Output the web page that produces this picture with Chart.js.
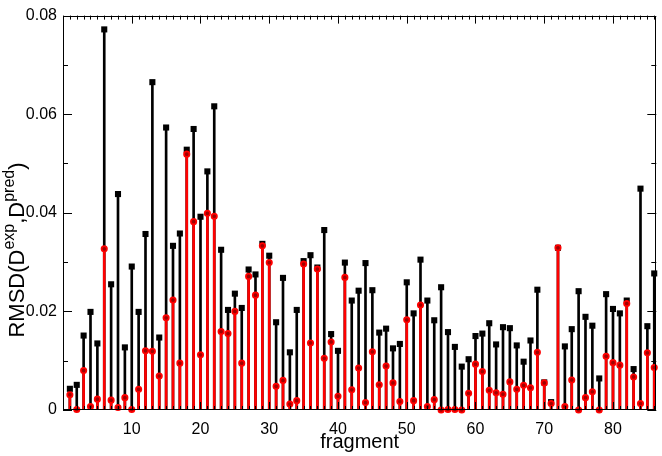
<!DOCTYPE html>
<html><head><meta charset="utf-8">
<script src="https://cdn.jsdelivr.net/npm/chart.js@4"></script>
<style>html,body{margin:0;padding:0;background:#fff}</style>
</head><body>
<canvas id="c" width="662" height="456" style="display:block;width:662px;height:456px"></canvas>
<script>
const fragments = [];
for (let i = 1; i <= 86; i++) fragments.push(i);
const rmsdBlack = [0.0043,0.0051,0.0151,0.0199,0.0135,0.0772,0.0255,0.0438,0.0127,0.0291,
  0.0199,0.0357,0.0665,0.0147,0.0573,0.0333,0.0358,0.0528,0.0570,0.0392,
  0.0484,0.0616,0.0325,0.0203,0.0236,0.0207,0.0285,0.0275,0.0337,0.0313,
  0.0178,0.0268,0.0117,0.0203,0.0302,0.0314,0.0289,0.0365,0.0154,0.0120,
  0.0299,0.0222,0.0242,0.0298,0.0243,0.0157,0.0165,0.0125,0.0134,0.0259,
  0.0196,0.0305,0.0222,0.0182,0.0249,0.0158,0.0128,0.0088,0.0103,0.0150,
  0.0155,0.0176,0.0133,0.0168,0.0166,0.0131,0.0098,0.0141,0.0244,0.0056,
  0.0016,0.0329,0.0129,0.0164,0.0241,0.0189,0.0171,0.0064,0.0235,0.0205,
  0.0196,0.0222,0.0083,0.0449,0.0170,0.0277];
const rmsdRed = [0.0031,0.0001,0.0080,0.0007,0.0022,0.0327,0.0020,0.0005,0.0025,0.0001,
  0.0042,0.0120,0.0119,0.0069,0.0187,0.0223,0.0095,0.0519,0.0382,0.0112,
  0.0399,0.0393,0.0159,0.0155,0.0200,0.0095,0.0271,0.0233,0.0333,0.0299,
  0.0048,0.0060,0.0012,0.0019,0.0296,0.0136,0.0286,0.0105,0.0138,0.0028,
  0.0269,0.0041,0.0085,0.0015,0.0118,0.0051,0.0089,0.0055,0.0017,0.0183,
  0.0019,0.0213,0.0007,0.0021,0.0000,0.0001,0.0001,0.0000,0.0034,0.0093,
  0.0078,0.0040,0.0035,0.0032,0.0057,0.0042,0.0050,0.0045,0.0117,0.0055,
  0.0013,0.0329,0.0007,0.0061,0.0000,0.0025,0.0037,0.0000,0.0109,0.0096,
  0.0091,0.0216,0.0067,0.0013,0.0116,0.0086];
const xTickValues = [10,20,30,40,50,60,70,80];
const yTickValues = [0,0.02,0.04,0.06,0.08];
const xTitle = 'fragment';

const FONT = '"Liberation Sans", Arial, sans-serif';
const pts = arr => fragments.map((f, i) => ({x: f, y: arr[i]}));

const frameTicks = {
  id: 'frameTicks',
  afterDatasetsDraw(chart) {
    const {ctx, chartArea: {left, right, top, bottom}, scales: {x, y}} = chart;
    ctx.save();
    ctx.strokeStyle = '#000';
    ctx.lineWidth = 1;
    ctx.beginPath();
    for (let v = 0; v <= 86; v++) {
      const px = Math.round(x.getPixelForValue(v)) + 0.5;
      const len = v % 10 === 0 ? 8 : 4;
      ctx.moveTo(px, bottom); ctx.lineTo(px, bottom - len);
      ctx.moveTo(px, top); ctx.lineTo(px, top + len);
    }
    for (let i = 0; i <= 8; i++) {
      const py = Math.round(y.getPixelForValue(i * 0.01)) + 0.5;
      const len = i % 2 === 0 ? 9 : 5;
      ctx.moveTo(left, py); ctx.lineTo(left + len, py);
      ctx.moveTo(right, py); ctx.lineTo(right - len, py);
    }
    ctx.stroke();
    ctx.strokeRect(Math.round(left) + 0.5, Math.round(top) + 0.5, Math.round(right - left) - 1, Math.round(bottom - top) - 1);
    ctx.restore();
  }
};

const titles = {
  id: 'titles',
  afterDraw(chart) {
    const {ctx, chartArea: {left, right}} = chart;
    ctx.save();
    ctx.fillStyle = '#000';
    ctx.font = '20px ' + FONT;
    ctx.textAlign = 'center';
    ctx.textBaseline = 'alphabetic';
    ctx.fillText(xTitle, (left + right) / 2, 448);
    // y title with superscripts
    const parts = [
      ['RMSD(D', false], ['exp', true], [',D', false], ['pred', true], [')', false]
    ];
    const big = '22px ' + FONT, small = '16px ' + FONT;
    let total = 0;
    parts.forEach(p => { ctx.font = p[1] ? small : big; total += ctx.measureText(p[0]).width; });
    ctx.translate(24, 250);
    ctx.rotate(-Math.PI / 2);
    ctx.textAlign = 'left';
    let pos = -total / 2;
    parts.forEach(p => {
      ctx.font = p[1] ? small : big;
      ctx.fillText(p[0], pos, p[1] ? -10 : 0);
      pos += ctx.measureText(p[0]).width;
    });
    ctx.restore();
  }
};

new Chart(document.getElementById('c'), {
  type: 'bar',
  data: {
    datasets: [
      {type: 'bar', data: pts(rmsdBlack), backgroundColor: '#000', barThickness: 2, grouped: false, order: 4},
      {type: 'line', data: pts(rmsdBlack), showLine: false, pointStyle: 'rect', pointRadius: 4.3,
       pointBackgroundColor: '#000', pointBorderWidth: 0, borderWidth: 0, order: 3, clip: false},
      {type: 'bar', data: pts(rmsdRed), backgroundColor: '#ff0000', barThickness: 2, grouped: false, order: 2},
      {type: 'line', data: pts(rmsdRed), showLine: false, pointStyle: 'circle', pointRadius: 2.7,
       pointBackgroundColor: '#a00000', pointBorderColor: '#ff0000', pointBorderWidth: 1.7, borderWidth: 0, order: 1, clip: false}
    ]
  },
  options: {
    responsive: false,
    animation: false,
    devicePixelRatio: 1,
    layout: {padding: {top: 10, right: 4, left: 0, bottom: 0}},
    plugins: {legend: {display: false}, tooltip: {enabled: false}},
    scales: {
      x: {
        type: 'linear', min: 0, max: 86.3, offset: false,
        grid: {display: false, drawTicks: false}, border: {display: false},
        ticks: {font: {family: FONT, size: 16}, color: '#000', padding: 10, maxRotation: 0, autoSkip: false},
        afterBuildTicks(s) { s.ticks = xTickValues.map(v => ({value: v})); },
        afterFit(s) { s.height = 46; }
      },
      y: {
        type: 'linear', min: 0, max: 0.08,
        grid: {display: false, drawTicks: false}, border: {display: false},
        ticks: {font: {family: FONT, size: 16}, color: '#000', padding: 6,
          callback: v => v === 0 ? '0' : Number(v).toFixed(2)},
        afterBuildTicks(s) { s.ticks = yTickValues.map(v => ({value: v})); },
        afterFit(s) { s.width = 63; }
      }
    }
  },
  plugins: [frameTicks, titles]
});
</script>
</body></html>
